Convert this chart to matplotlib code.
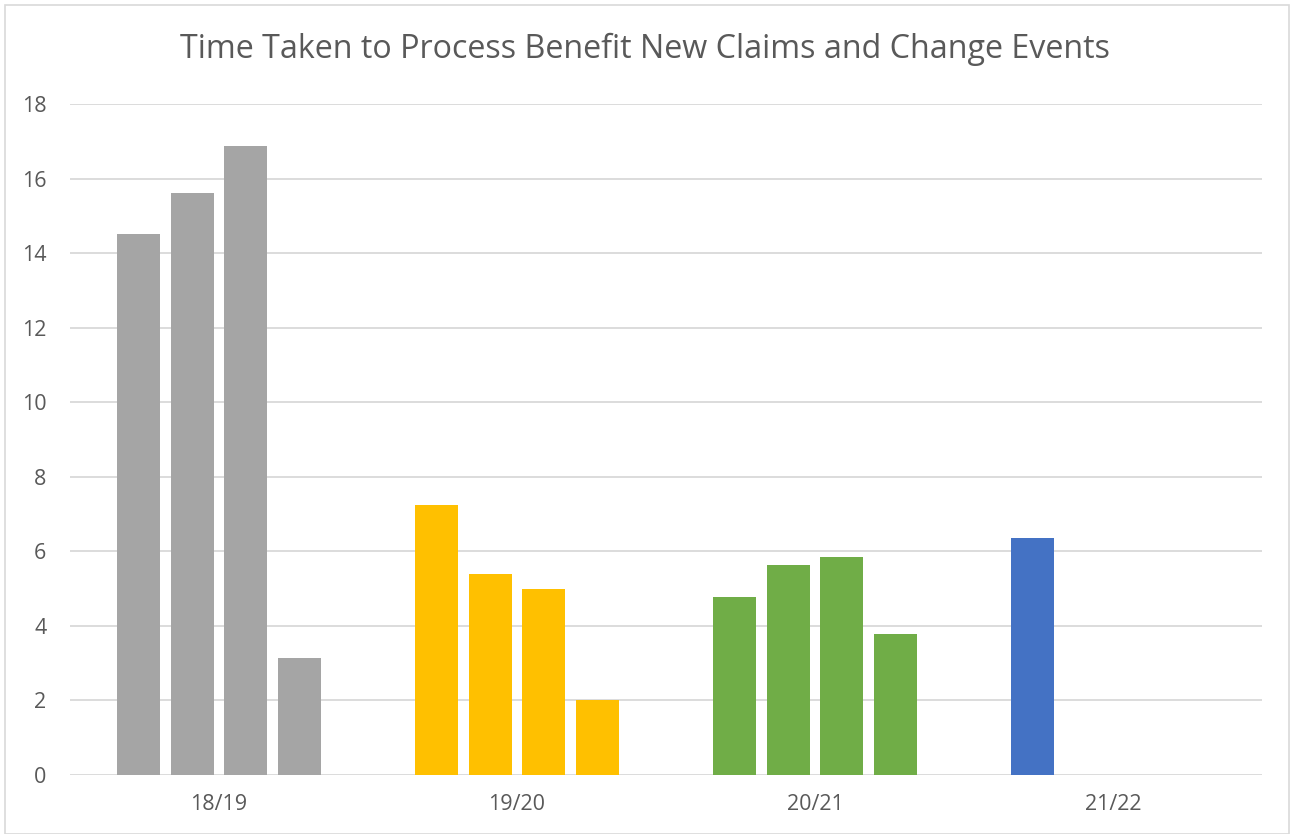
import matplotlib.pyplot as plt
import numpy as np

years = ['18/19', '19/20', '20/21', '21/22']
q1 = [14.51, 7.24, 4.77, 6.36]
q2 = [15.60, 5.39, 5.63, np.nan]
q3 = [16.86, 4.99, 5.85, np.nan]
q4 = [3.13, 2.00, 3.78, np.nan]
year_colors = ['#A5A5A5', '#FFC000', '#70AD47', '#4472C4']

plt.rcParams['font.family'] = ['Open Sans', 'DejaVu Sans']

fig = plt.figure(figsize=(12.9, 8.34), dpi=100)
ax = fig.add_axes([70 / 1290, 1 - 775 / 834, (1262 - 70) / 1290, (775 - 104) / 834])

x = np.arange(len(years))
pitch = 0.18
width = 0.144
for i, series in enumerate([q1, q2, q3, q4]):
    ax.bar(x + (i - 1.5) * pitch, series, width=width, color=year_colors, zorder=2)

ax.set_xlim(-0.5, 3.5)
ax.set_ylim(0, 18)
ax.set_yticks(np.arange(0, 19, 2))
ax.set_xticks(x)
ax.set_xticklabels(years)
ax.grid(True, axis='y', color='#D9D9D9', linewidth=1.3, zorder=0)
for s in ax.spines.values():
    s.set_visible(False)
ax.tick_params(length=0, labelsize=15.5, colors='#595959', pad=14)
ax.tick_params(axis='y', pad=17)

fig.text(0.5, 1 - 49 / 834, 'Time Taken to Process Benefit New Claims and Change Events',
         ha='center', va='center', fontsize=23.2, color='#595959')

# chart border
fig.add_artist(plt.Rectangle((5 / 1290, 0), 1 - 6 / 1290, 1 - 5 / 834, transform=fig.transFigure,
                             fill=False, edgecolor='#D9D9D9', linewidth=1.2))

fig.savefig('out.png', dpi=100)
